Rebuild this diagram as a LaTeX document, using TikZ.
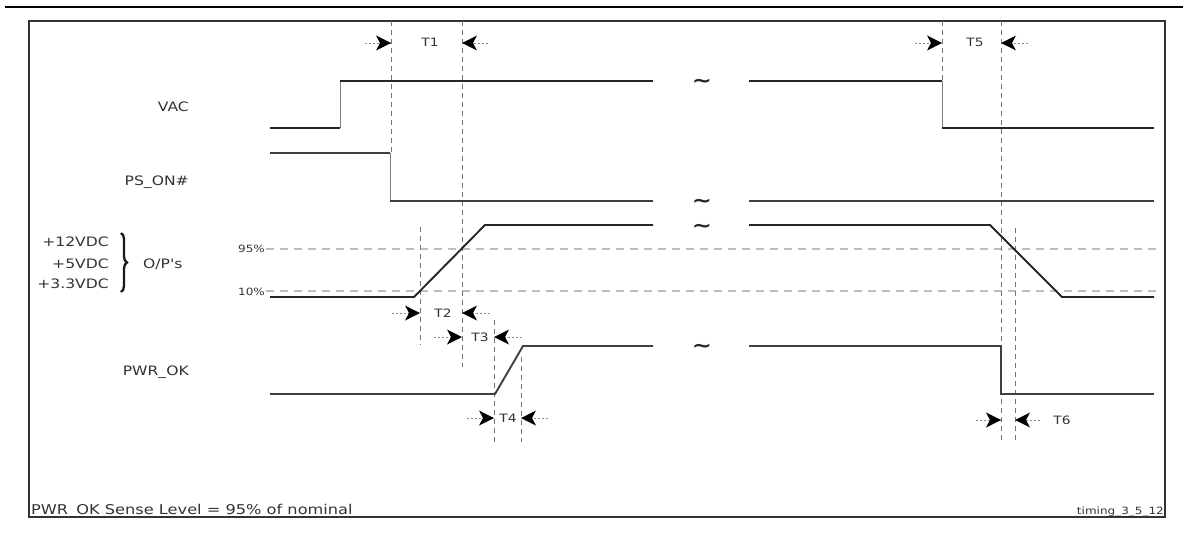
\documentclass[tikz,border=0pt]{standalone}
\usepackage{fontspec}
\newfontfamily\lbl{DejaVu Sans}[FakeStretch=1.2]
\usetikzlibrary{decorations.pathreplacing}
\newcommand\dimhead[3]{\fill[black] (#1,#2) -- ++({-15*#3},-7.5) -- ++({4*#3},7.5) -- ++({-4*#3},7.5) -- cycle;}
\begin{document}
\begin{tikzpicture}[x=1pt,y=-1pt,
  sig/.style={draw=black!85, line width=1.9pt},
  sigdot/.style={draw=black!75, line width=1.9pt},
  edgeline/.style={draw=black!50, line width=1pt},
  vdash/.style={draw=black!55, line width=0.7pt, dash pattern=on 5pt off 4pt},
  hdash/.style={draw=black!25, line width=1.2pt, dash pattern=on 8pt off 6pt},
  dimtail/.style={draw=black!45, line width=0.6pt, dash pattern=on 2pt off 2pt},
  lab/.style={font=\lbl\fontsize{13}{15}\selectfont, text=black!80, inner sep=0pt},
  tlab/.style={font=\lbl\fontsize{11.5}{13}\selectfont, text=black!80, inner sep=0pt},
  plab/.style={font=\lbl\fontsize{10}{12}\selectfont, text=black!80, inner sep=0pt},
  brk/.style={font=\lbl\bfseries\fontsize{20}{20}\selectfont, text=black!85, inner sep=0pt}]
\useasboundingbox (0,0) rectangle (1183,535);
% top rule and frame
\draw[line width=2.5pt] (5,7) -- (1183,7);
\draw[black!80, line width=1.2pt] (29,21) rectangle (1165,517);
% threshold lines
\draw[hdash] (266,249) -- (1156,249);
\draw[hdash] (266,291) -- (1156,291);
% vertical guide lines
\draw[vdash] (391,21) -- (391,153);
\draw[vdash] (462,21) -- (462,367);
\draw[vdash] (420,227) -- (420,345);
\draw[vdash] (494,320) -- (494,442);
\draw[vdash] (521,357) -- (521,442);
\draw[vdash] (942,21) -- (942,81);
\draw[vdash] (1001,21) -- (1001,443);
\draw[vdash] (1015,228) -- (1015,443);
% VAC
\draw[sig] (270,128) -- (340,128);
\draw[edgeline] (340,128) -- (340,81);
\draw[sig] (340,81) -- (653,81);
\draw[sig] (749,81) -- (942,81);
\draw[edgeline] (942,81) -- (942,128);
\draw[sig] (942,128) -- (1154,128);
% PS_ON#
\draw[sigdot] (270,153) -- (390,153);
\draw[edgeline] (390,153) -- (390,201);
\draw[sigdot] (390,201) -- (653,201);
\draw[sigdot] (749,201) -- (1154,201);
% O/P's
\draw[sig] (270,297) -- (414,297) -- (485,225) -- (653,225);
\draw[sig] (749,225) -- (990,225) -- (1062,297) -- (1154,297);
% PWR_OK
\draw[sigdot] (270,394) -- (495,394) -- (523,346) -- (653,346);
\draw[sigdot] (749,346) -- (1001,346) -- (1001,394) -- (1154,394);
% break marks
\node[brk] (b1) at (702,83) {\textasciitilde};
\node[brk] (b2) at (702,203) {\textasciitilde};
\node[brk] (b3) at (702,228) {\textasciitilde};
\node[brk] (b4) at (702,348) {\textasciitilde};
% brace
\draw[black!90, line width=2.3pt, decorate, decoration={brace, amplitude=6pt}] (121,233) -- (121,292);
% dimension arrows: dashed tails
\draw[dimtail] (365,43) -- (391,43);
\draw[dimtail] (488,43) -- (462,43);
\draw[dimtail] (915,43) -- (942,43);
\draw[dimtail] (1028,43) -- (1001,43);
\draw[dimtail] (392,313) -- (420,313);
\draw[dimtail] (490,313) -- (462,313);
\draw[dimtail] (434,337) -- (462,337);
\draw[dimtail] (522,337) -- (494,337);
\draw[dimtail] (467,418) -- (494,418);
\draw[dimtail] (548,418) -- (521,418);
\draw[dimtail] (976,420) -- (1001,420);
\draw[dimtail] (1040,420) -- (1015,420);
% dimension arrows: solid heads
\dimhead{391}{43}{1}
\dimhead{462}{43}{-1}
\dimhead{942}{43}{1}
\dimhead{1001}{43}{-1}
\dimhead{420}{313}{1}
\dimhead{462}{313}{-1}
\dimhead{462}{337}{1}
\dimhead{494}{337}{-1}
\dimhead{494}{418}{1}
\dimhead{521}{418}{-1}
\dimhead{1001}{420}{1}
\dimhead{1015}{420}{-1}
% labels
\node[lab, anchor=base east] (vac) at (189,111) {VAC};
\node[lab, anchor=base east] (pson) at (189,185) {PS\_ON\#};
\node[lab, anchor=base east] (v12) at (109,246) {+12VDC};
\node[lab, anchor=base east] (v5) at (109,268) {+5VDC};
\node[lab, anchor=base east] (v33) at (109,288) {+3.3VDC};
\node[lab, anchor=base west] (ops) at (143,268) {O/P's};
\node[plab, anchor=base east] (p95) at (265,252.6) {95\%};
\node[plab, anchor=base east] (p10) at (265,295.6) {10\%};
\node[lab, anchor=base east] (pwrok) at (189,375) {PWR\_OK};
\node[tlab, anchor=base] (tt1) at (430,47) {T1};
\node[tlab, anchor=base] (tt5) at (975,47) {T5};
\node[tlab, anchor=base] (tt2) at (443,317) {T2};
\node[tlab, anchor=base] (tt3) at (480,341) {T3};
\node[tlab, anchor=base] (tt4) at (508,422) {T4};
\node[tlab, anchor=base] (tt6) at (1062,424) {T6};
\node[lab, anchor=base west, font=\lbl\fontsize{13.5}{15}\selectfont] (note) at (31,514) {PWR\_OK Sense Level = 95\% of nominal};
\node[plab, anchor=base east] (tag) at (1164,514) {timing\_3\_5\_12};
\end{tikzpicture}
\end{document}
